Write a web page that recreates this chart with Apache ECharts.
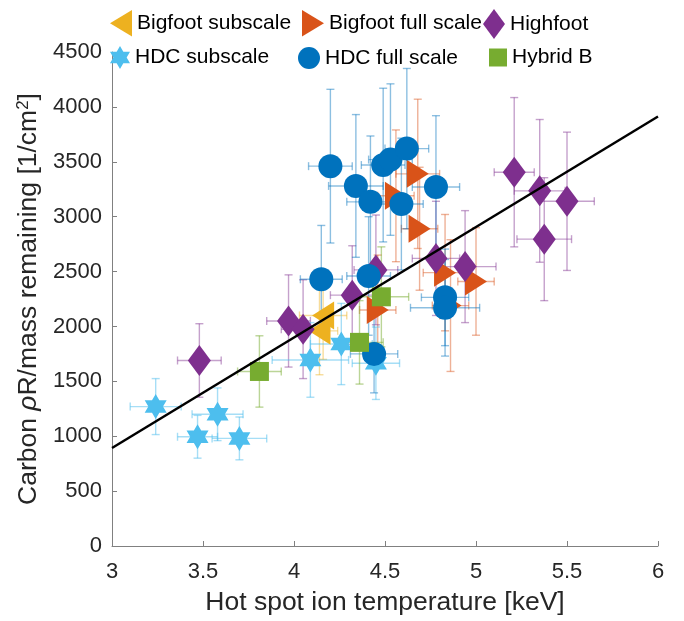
<!DOCTYPE html>
<html>
<head>
<meta charset="utf-8">
<script src="https://cdn.jsdelivr.net/npm/echarts@6/dist/echarts.min.js"></script>
<style>
  html, body { margin: 0; padding: 0; background: #fff; }
  #chart { width: 684px; height: 621px; }
</style>
</head>
<body>
<div id="chart"></div>
<script>
// data (T in keV, rho in 1/cm^2)
const bigfootSubT = [4.16, 4.14];
const bigfootSubRho = [2100, 1960];
const bigfootSubTErr = [0.13, 0.10];
const bigfootSubRhoErr = [400, 400];

const bigfootFullT = [4.46, 4.56, 4.68, 4.69, 4.83, 4.86, 5.00];
const bigfootFullRho = [2150, 3190, 3390, 2890, 2490, 2190, 2410];
const bigfootFullTErr = [0.10, 0.10, 0.12, 0.10, 0.12, 0.10, 0.10];
const bigfootFullRhoErr = [500, 600, 680, 560, 530, 600, 490];

const highfootT = [3.48, 3.97, 4.05, 4.32, 4.45, 4.78, 4.94, 5.21, 5.35, 5.375, 5.50];
const highfootRho = [1690, 2050, 1975, 2285, 2515, 2620, 2545, 3405, 3235, 2795, 3140];
const highfootTErr = [0.12, 0.12, 0.12, 0.12, 0.12, 0.13, 0.17, 0.11, 0.14, 0.15, 0.15];
const highfootRhoErr = [335, 420, 450, 450, 500, 520, 510, 680, 650, 560, 630];

const hdcSubT = [3.24, 3.47, 3.58, 3.70, 4.09, 4.26, 4.45];
const hdcSubRho = [1270, 995, 1200, 980, 1695, 1840, 1665];
const hdcSubTErr = [0.14, 0.11, 0.14, 0.15, 0.21, 0.17, 0.13];
const hdcSubRhoErr = [255, 195, 240, 195, 340, 370, 330];

const hdcFullT = [4.15, 4.20, 4.34, 4.41, 4.42, 4.44, 4.49, 4.53, 4.59, 4.62, 4.78, 4.83, 4.83];
const hdcFullRho = [2430, 3460, 3280, 2460, 3135, 1750, 3470, 3520, 3115, 3620, 3270, 2265, 2170];
const hdcFullTErr = [0.115, 0.12, 0.15, 0.12, 0.13, 0.13, 0.12, 0.12, 0.12, 0.12, 0.13, 0.13, 0.19];
const hdcFullRhoErr = [490, 700, 650, 540, 600, 355, 700, 690, 600, 730, 650, 440, 440];

const hybridBT = [3.81, 4.36, 4.48];
const hybridBRho = [1590, 1855, 2270];
const hybridBTErr = [0.12, 0.13, 0.15];
const hybridBRhoErr = [325, 380, 455];

// linear fit line end points
const fitT = [3, 6];
const fitRho = [893, 3912];

const xTicks = [3, 3.5, 4, 4.5, 5, 5.5, 6];
const yTicks = [0, 500, 1000, 1500, 2000, 2500, 3000, 3500, 4000, 4500];

const FONT = 'Liberation Sans';
const hexagram = 'path://M0,-10L2.887,-5L8.66,-5L5.77,0L8.66,5L2.887,5L0,10L-2.887,5L-8.66,5L-5.77,0L-8.66,-5L-2.887,-5Z';
const triLeft = 'path://M10,0L0,6L10,12Z';
const triRight = 'path://M0,0L10,6L0,12Z';

// one entry per group
const groups = [
  { name: 'Bigfoot subscale', t: bigfootSubT, rho: bigfootSubRho, te: bigfootSubTErr, re: bigfootSubRhoErr,
    color: '#EDB120', err: 'rgba(237,177,32,0.45)', symbol: triLeft, size: [22, 28] },
  { name: 'Bigfoot full scale', t: bigfootFullT, rho: bigfootFullRho, te: bigfootFullTErr, re: bigfootFullRhoErr,
    color: '#D95319', err: 'rgba(217,83,25,0.45)', symbol: triRight, size: [22, 28] },
  { name: 'Highfoot', t: highfootT, rho: highfootRho, te: highfootTErr, re: highfootRhoErr,
    color: '#7E2F8E', err: 'rgba(126,47,142,0.45)', symbol: 'diamond', size: [23, 31] },
  { name: 'HDC subscale', t: hdcSubT, rho: hdcSubRho, te: hdcSubTErr, re: hdcSubRhoErr,
    color: '#4DBEEE', err: 'rgba(77,190,238,0.5)', symbol: hexagram, size: [22, 25] },
  { name: 'HDC full scale', t: hdcFullT, rho: hdcFullRho, te: hdcFullTErr, re: hdcFullRhoErr,
    color: '#0072BD', err: 'rgba(0,114,189,0.45)', symbol: 'circle', size: 24 },
  { name: 'Hybrid B', t: hybridBT, rho: hybridBRho, te: hybridBTErr, re: hybridBRhoErr,
    color: '#77AC30', err: 'rgba(119,172,48,0.5)', symbol: 'rect', size: 19 }
];

function errorBars(color) {
  return function (params, api) {
    const x = api.value(0), y = api.value(1), dx = api.value(2), dy = api.value(3);
    const c = api.coord([x, y]);
    const l = api.coord([x - dx, y])[0], r = api.coord([x + dx, y])[0];
    const t = api.coord([x, y + dy])[1], b = api.coord([x, y - dy])[1];
    const cap = 4;
    const style = { stroke: color, lineWidth: 1.4, fill: null };
    const seg = (x1, y1, x2, y2) => ({ type: 'line', shape: { x1, y1, x2, y2 }, style });
    return {
      type: 'group',
      children: [
        seg(l, c[1], r, c[1]),
        seg(l, c[1] - cap, l, c[1] + cap),
        seg(r, c[1] - cap, r, c[1] + cap),
        seg(c[0], t, c[0], b),
        seg(c[0] - cap, t, c[0] + cap, t),
        seg(c[0] - cap, b, c[0] + cap, b)
      ]
    };
  };
}

const series = [];
groups.forEach(g => {
  series.push({
    type: 'custom',
    name: g.name + ' err',
    renderItem: errorBars(g.err),
    data: g.t.map((v, i) => [v, g.rho[i], g.te[i], g.re[i]]),
    encode: { x: 0, y: 1 },
    z: 1,
    silent: true
  });
});
groups.forEach(g => {
  series.push({
    type: 'scatter',
    name: g.name,
    symbol: g.symbol,
    symbolSize: g.size,
    itemStyle: { color: g.color, opacity: 1 },
    data: g.t.map((v, i) => [v, g.rho[i]]),
    z: 2,
    silent: true
  });
});
series.push({
  type: 'line',
  name: 'fit',
  data: fitT.map((v, i) => [v, fitRho[i]]),
  showSymbol: false,
  lineStyle: { color: '#000', width: 2.5 },
  z: 3,
  silent: true
});

// legend placement, like the figure (two rows)
const legendPos = [
  { left: 105, top: 5, w: 22, h: 28 },
  { left: 297, top: 5, w: 22, h: 28 },
  { left: 478, top: 4, w: 22, h: 30 },
  { left: 105, top: 41, w: 20, h: 24 },
  { left: 293, top: 42, w: 22, h: 22 },
  { left: 484, top: 42, w: 18, h: 18 }
];
const legends = groups.map((g, i) => ({
  data: [g.name],
  left: legendPos[i].left,
  top: legendPos[i].top,
  orient: 'horizontal',
  itemWidth: legendPos[i].w,
  itemHeight: legendPos[i].h,
  itemGap: 0,
  selectedMode: false,
  textStyle: { fontFamily: FONT, fontSize: 21, color: '#000' }
}));

const chart = echarts.init(document.getElementById('chart'));
chart.setOption({
  animation: false,
  backgroundColor: '#fff',
  legend: legends,
  grid: { left: 112, right: 26, top: 52, bottom: 75, containLabel: false },
  xAxis: {
    type: 'value',
    min: xTicks[0],
    max: xTicks[xTicks.length - 1],
    interval: 0.5,
    name: 'Hot spot ion temperature [keV]',
    nameLocation: 'middle',
    nameGap: 43,
    nameTextStyle: { fontFamily: FONT, fontSize: 26.5, color: '#262626' },
    axisLine: { lineStyle: { color: '#808080', width: 1 } },
    axisTick: { inside: true, length: 5, lineStyle: { color: '#808080' } },
    axisLabel: { fontFamily: FONT, fontSize: 22, color: '#262626', margin: 15 },
    splitLine: { show: false }
  },
  yAxis: {
    type: 'value',
    min: yTicks[0],
    max: yTicks[yTicks.length - 1],
    interval: 500,
    name: '{a|Carbon }{i|ρ}{a|R/mass remaining [1/cm}{s|2}{a|]}',
    nameLocation: 'middle',
    nameGap: 65,
    nameTextStyle: {
      fontFamily: FONT, fontSize: 26.5, color: '#262626',
      rich: {
        a: { fontFamily: FONT, fontSize: 26.5, color: '#262626' },
        i: { fontFamily: FONT, fontSize: 26.5, fontStyle: 'italic', color: '#262626' },
        s: { fontFamily: FONT, fontSize: 17, color: '#262626', verticalAlign: 'top', padding: [0, 0, 10, 0] }
      }
    },
    axisLine: { show: true, lineStyle: { color: '#808080', width: 1 } },
    axisTick: { show: true, inside: true, length: 5, lineStyle: { color: '#808080' } },
    axisLabel: { fontFamily: FONT, fontSize: 22, color: '#262626', margin: 10, formatter: v => String(v) },
    splitLine: { show: false }
  },
  series: series
});
</script>
</body>
</html>
